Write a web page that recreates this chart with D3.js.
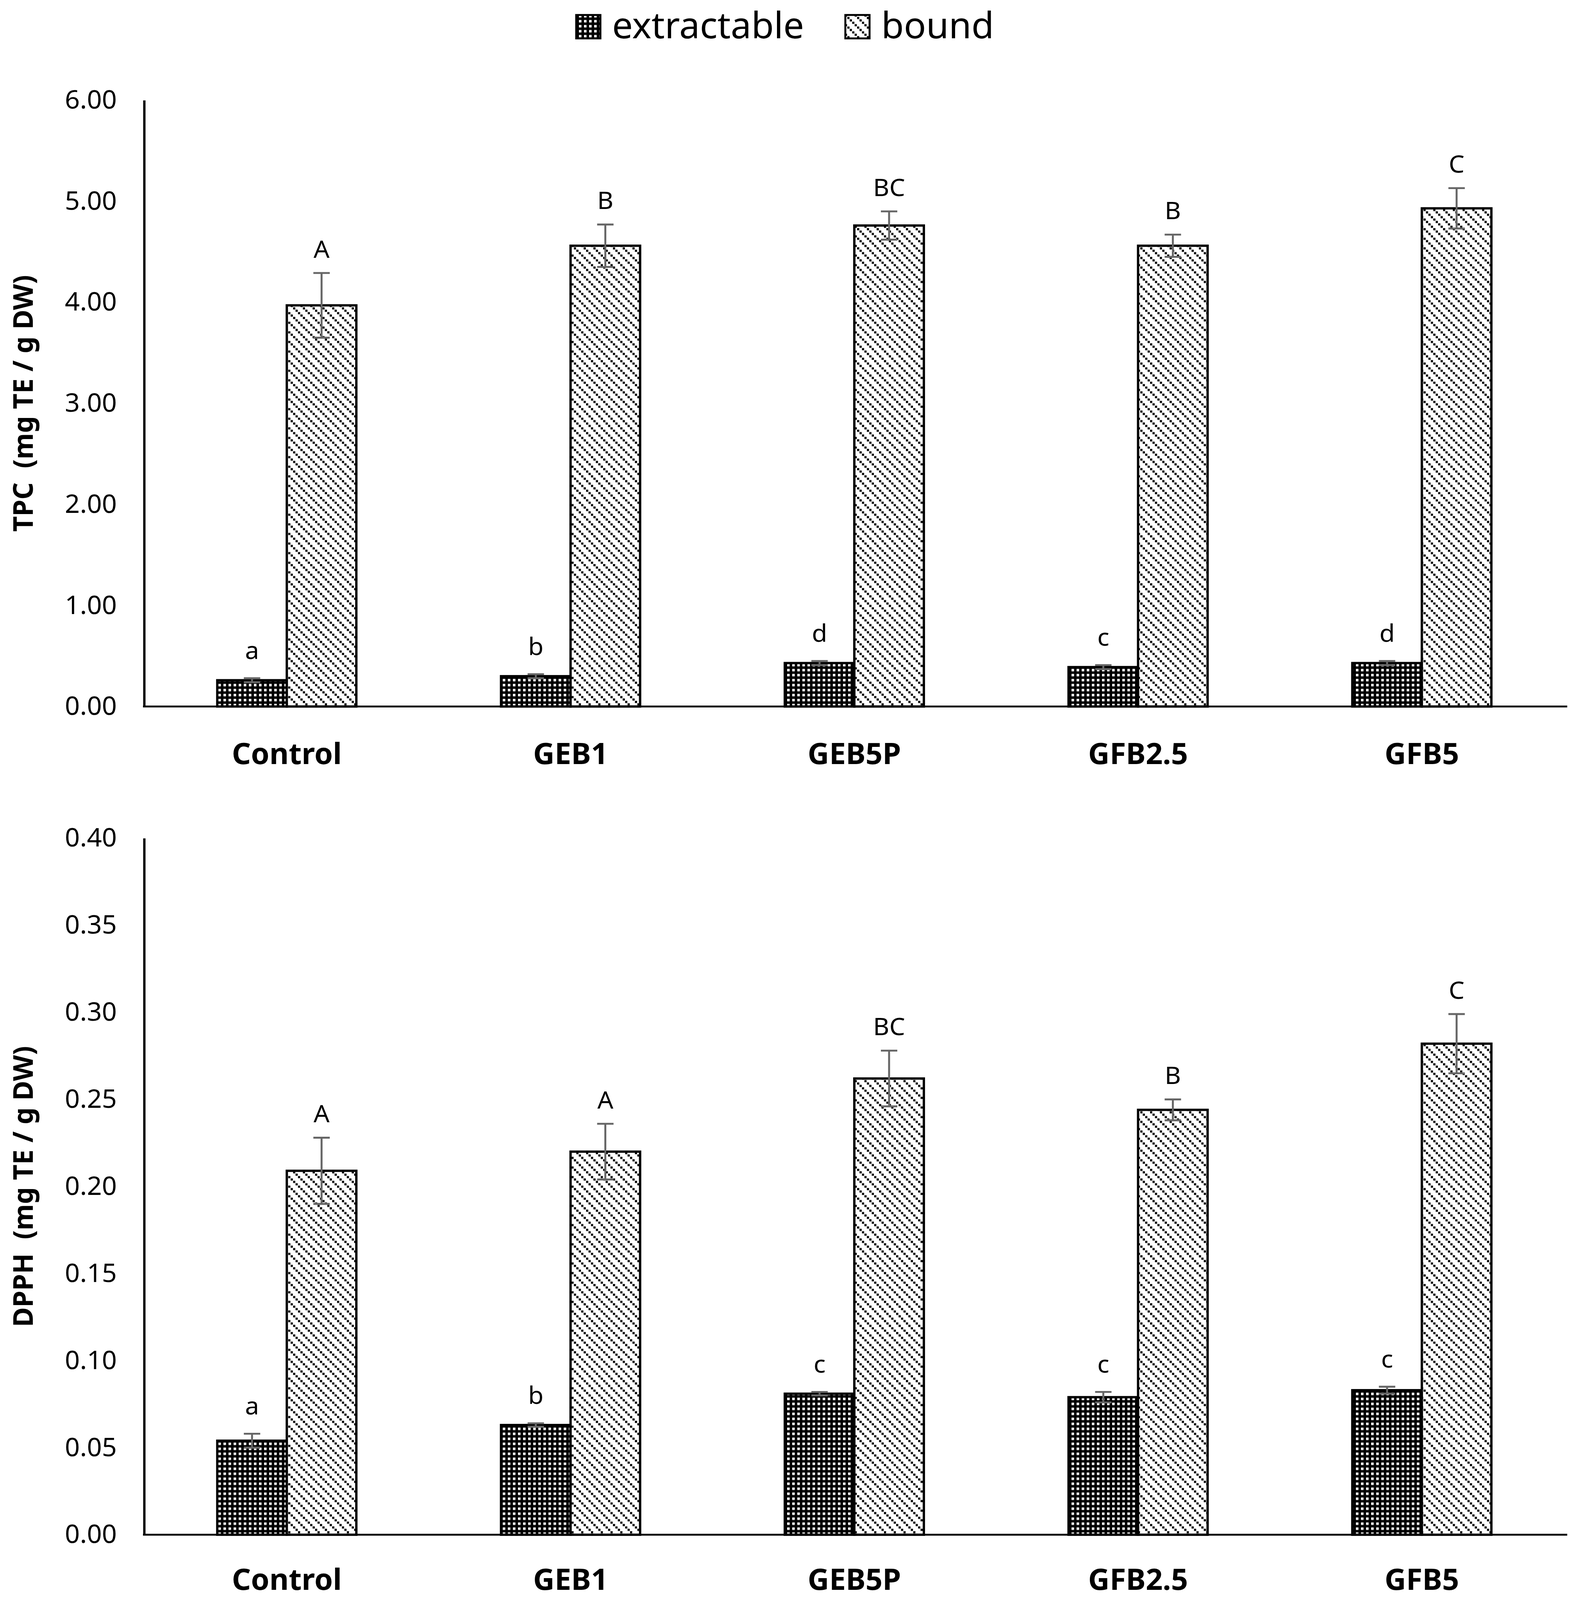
<!DOCTYPE html>
<html>
<head>
<meta charset="utf-8">
<script src="https://cdn.jsdelivr.net/npm/d3@7"></script>
<style>
  html, body { margin: 0; background: #fff; overflow: hidden; }
  svg { display: block; }
  text { font-family: "Noto Sans", "Open Sans", sans-serif; fill: #000; }
</style>
</head>
<body>
<div id="chart"></div>
<script>
// values
const categories = ["Control", "GEB1", "GEB5P", "GFB2.5", "GFB5"];
const series = ["extractable", "bound"];

const tpcExtractable = [0.26, 0.30, 0.43, 0.39, 0.43];
const tpcExtractableErr = [0.02, 0.02, 0.02, 0.02, 0.02];
const tpcBound = [3.97, 4.56, 4.76, 4.56, 4.93];
const tpcBoundErr = [0.32, 0.21, 0.14, 0.11, 0.20];
const tpcExtractableLetters = ["a", "b", "d", "c", "d"];
const tpcBoundLetters = ["A", "B", "BC", "B", "C"];
const tpcTicks = [0, 1, 2, 3, 4, 5, 6];

const dpphExtractable = [0.054, 0.063, 0.081, 0.079, 0.083];
const dpphExtractableErr = [0.004, 0.001, 0.001, 0.003, 0.002];
const dpphBound = [0.209, 0.220, 0.262, 0.244, 0.282];
const dpphBoundErr = [0.019, 0.016, 0.016, 0.006, 0.017];
const dpphExtractableLetters = ["a", "b", "c", "c", "c"];
const dpphBoundLetters = ["A", "A", "BC", "B", "C"];
const dpphTicks = [0, 0.05, 0.1, 0.15, 0.2, 0.25, 0.3, 0.35, 0.4];

const width = 4037;
const height = 4167;
const axisX = 369;
const plotRight = 4012;
const barW = 178;

// fit the drawing to whatever viewport we actually get
const svg = d3
  .select("#chart")
  .append("svg")
  .attr("width", window.innerWidth || width)
  .attr("height", window.innerHeight || height)
  .attr("viewBox", `0 0 ${width} ${height}`)
  .attr("preserveAspectRatio", "none");

svg.append("rect").attr("width", width).attr("height", height).attr("fill", "#fff");

const defs = svg.append("defs");

// bound: dotted downward diagonal
const hatch = defs
  .append("pattern")
  .attr("id", "hatch")
  .attr("patternUnits", "userSpaceOnUse")
  .attr("width", 25)
  .attr("height", 25);
hatch.append("rect").attr("width", 25).attr("height", 25).attr("fill", "#fff");
hatch
  .selectAll("rect.dot")
  .data([0, 1, 2, 3])
  .enter()
  .append("rect")
  .attr("class", "dot")
  .attr("x", d => d * 6.25 + 0.3)
  .attr("y", d => d * 6.25 + 0.3)
  .attr("width", 5.6)
  .attr("height", 5.6)
  .attr("fill", "#000");

// extractable: dark grid with white dots
const cell = 6.5;
const checker = defs
  .append("pattern")
  .attr("id", "checker")
  .attr("patternUnits", "userSpaceOnUse")
  .attr("width", cell * 2)
  .attr("height", cell * 2);
checker.append("rect").attr("width", cell * 2).attr("height", cell * 2).attr("fill", "#000");
checker
  .append("rect")
  .attr("width", cell)
  .attr("height", cell)
  .attr("fill", "#fff");

const fills = { extractable: "url(#checker)", bound: "url(#hatch)" };

const x0 = d3.scaleBand().domain(categories).range([371, 4003]).padding(0);
const x1 = d3.scaleBand().domain(series).range([-barW, barW]).padding(0);

function drawPanel(opt) {
  const y = d3.scaleLinear().domain(opt.domain).range([opt.bottom, opt.top]);
  const g = svg.append("g");

  const rows = [];
  categories.forEach((c, i) => {
    rows.push({ cat: c, s: "extractable", v: opt.ext[i], e: opt.extErr[i], l: opt.extLetters[i], gap: 50 });
    rows.push({ cat: c, s: "bound", v: opt.bound[i], e: opt.boundErr[i], l: opt.boundLetters[i], gap: 40 });
  });
  const cx = d => x0(d.cat) + x0.bandwidth() / 2 + x1(d.s);

  // bars
  g.selectAll("rect.bar")
    .data(rows)
    .enter()
    .append("rect")
    .attr("class", "bar")
    .attr("x", d => cx(d))
    .attr("y", d => y(d.v))
    .attr("width", x1.bandwidth())
    .attr("height", d => y(0) - y(d.v))
    .attr("fill", d => fills[d.s])
    .attr("stroke", "#000")
    .attr("stroke-width", 6);

  // error bars
  const err = g.selectAll("g.err").data(rows).enter().append("g").attr("class", "err")
    .attr("stroke", "#666").attr("stroke-width", 5);
  err.append("line")
    .attr("x1", d => cx(d) + barW / 2).attr("x2", d => cx(d) + barW / 2)
    .attr("y1", d => y(d.v + d.e)).attr("y2", d => y(d.v - d.e));
  err.append("line")
    .attr("x1", d => cx(d) + barW / 2 - 21).attr("x2", d => cx(d) + barW / 2 + 21)
    .attr("y1", d => y(d.v + d.e)).attr("y2", d => y(d.v + d.e));
  err.append("line")
    .attr("x1", d => cx(d) + barW / 2 - 21).attr("x2", d => cx(d) + barW / 2 + 21)
    .attr("y1", d => y(d.v - d.e)).attr("y2", d => y(d.v - d.e));

  // significance letters
  g.selectAll("text.letter")
    .data(rows)
    .enter()
    .append("text")
    .attr("class", "letter")
    .attr("text-anchor", "middle")
    .attr("font-size", 64)
    .attr("x", d => cx(d) + barW / 2)
    .attr("y", d => y(d.v + d.e) - d.gap)
    .text(d => d.l);

  // y axis
  const yAxis = g.append("g")
    .attr("transform", `translate(${axisX},0)`)
    .call(d3.axisLeft(y).tickValues(opt.ticks).tickFormat(d3.format(".2f")).tickSize(0).tickPadding(70));
  yAxis.select(".domain").attr("stroke", "#000").attr("stroke-width", 6);
  yAxis.selectAll("text").attr("font-size", 67).attr("fill", "#000").style("font-family", "Noto Sans");

  // x axis
  g.append("line")
    .attr("x1", axisX - 3).attr("x2", plotRight)
    .attr("y1", y(0)).attr("y2", y(0))
    .attr("stroke", "#000").attr("stroke-width", 5);
  g.selectAll("text.cat")
    .data(categories)
    .enter()
    .append("text")
    .attr("class", "cat")
    .attr("text-anchor", "middle")
    .attr("font-size", 76)
    .attr("font-weight", 700)
    .attr("x", d => x0(d) + x0.bandwidth() / 2)
    .attr("y", y(0) + opt.labelOffset)
    .text(d => d);

  // axis title
  g.append("text")
    .attr("text-anchor", "middle")
    .attr("font-size", 70)
    .attr("font-weight", 700)
    .style("white-space", "pre")
    .attr("transform", `translate(84,${(opt.top + opt.bottom) / 2}) rotate(-90)`)
    .text(opt.title);
}

drawPanel({
  domain: [0, 6], top: 261, bottom: 1840, ticks: tpcTicks, labelOffset: 150,
  ext: tpcExtractable, extErr: tpcExtractableErr, extLetters: tpcExtractableLetters,
  bound: tpcBound, boundErr: tpcBoundErr, boundLetters: tpcBoundLetters,
  title: "TPC  (mg TE / g DW)"
});

drawPanel({
  domain: [0, 0.4], top: 2183, bottom: 3997, ticks: dpphTicks, labelOffset: 144,
  ext: dpphExtractable, extErr: dpphExtractableErr, extLetters: dpphExtractableLetters,
  bound: dpphBound, boundErr: dpphBoundErr, boundLetters: dpphBoundLetters,
  title: "DPPH  (mg TE / g DW)"
});

// legend
const legend = svg.append("g");
const legendItems = [
  { s: "extractable", x: 1475 },
  { s: "bound", x: 2164 }
];
legend.selectAll("rect")
  .data(legendItems)
  .enter()
  .append("rect")
  .attr("x", d => d.x)
  .attr("y", 39)
  .attr("width", 62)
  .attr("height", 61)
  .attr("fill", d => fills[d.s])
  .attr("stroke", "#000")
  .attr("stroke-width", 5);
legend.selectAll("text")
  .data(legendItems)
  .enter()
  .append("text")
  .attr("x", d => d.x + 92)
  .attr("y", 100)
  .attr("font-size", 94)
  .text(d => d.s);
</script>
</body>
</html>
